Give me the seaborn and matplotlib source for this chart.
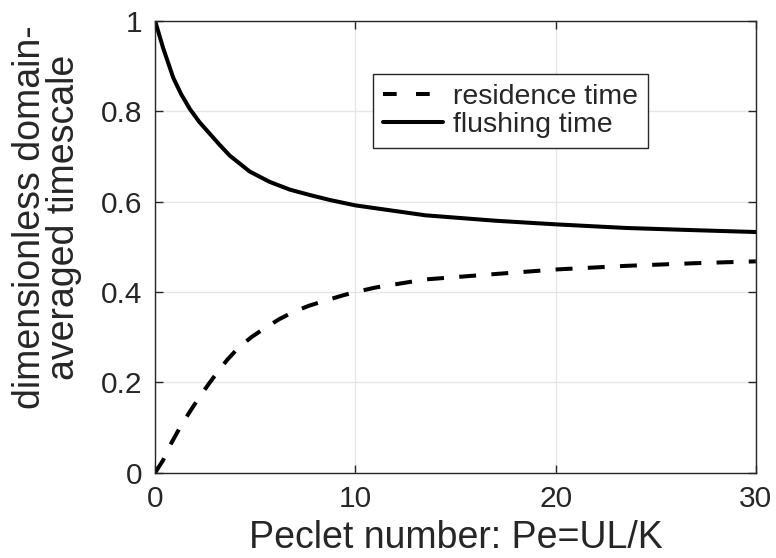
import numpy as np
import pandas as pd
import matplotlib
matplotlib.use("Agg")
import matplotlib.pyplot as plt
import seaborn as sns

# Data
flush_pe = [0, 0.4, 0.9, 1.3, 1.74, 2.2, 2.74, 3.2, 3.73, 4.72, 5.72, 6.72, 7.72, 8.72,
            10, 13.5, 17, 20, 23.5, 27, 30]
flush_t = [1.0, 0.94, 0.875, 0.838, 0.805, 0.777, 0.750, 0.727, 0.702, 0.667, 0.644,
           0.627, 0.615, 0.604, 0.592, 0.570, 0.558, 0.550, 0.542, 0.537, 0.533]

res_pe = [0, 0.4, 0.8, 1.2, 1.7, 2.1, 2.65, 3.1, 3.6, 4.1, 4.8, 5.5, 6.2, 6.9, 7.7, 8.5,
          9.4, 10, 11, 13.5, 17, 20, 23.5, 27, 30]
res_t = [0, 0.028, 0.065, 0.097, 0.133, 0.160, 0.195, 0.222, 0.250, 0.274, 0.300, 0.321,
         0.340, 0.356, 0.370, 0.381, 0.393, 0.400, 0.410, 0.428, 0.440, 0.450, 0.458, 0.464, 0.468]

x_ticks = [0, 10, 20, 30]
y_ticks = [0, 0.2, 0.4, 0.6, 0.8, 1.0]
series_labels = ["residence time", "flushing time"]

sns.set_style("whitegrid")
plt.rcParams['font.family'] = ['Liberation Sans', 'DejaVu Sans']

fig = plt.figure(figsize=(7.76, 5.58), dpi=100)
ax = fig.add_axes([0.2, 0.153, 0.774, 0.809])

df_res = pd.DataFrame({"Pe": res_pe, "t": res_t})
df_fl = pd.DataFrame({"Pe": flush_pe, "t": flush_t})

LW = 2.9
sns.lineplot(data=df_res, x="Pe", y="t", ax=ax, color="black", lw=LW,
             label=series_labels[0], sort=False)
ax.lines[-1].set_dashes((4.2, 3.8))
sns.lineplot(data=df_fl, x="Pe", y="t", ax=ax, color="black", lw=LW,
             label=series_labels[1], sort=False)

ax.set_xlim(0, 30)
ax.set_ylim(0, 1)
ax.set_xticks(x_ticks)
ax.set_yticks(y_ticks)
ax.set_xticklabels([f"{v:g}" for v in x_ticks])
ax.set_yticklabels([f"{v:g}" for v in y_ticks])

ax.grid(True, color="#e6e6e6", lw=1.0)
for s in ax.spines.values():
    s.set_visible(True)
    s.set_color("#262626")
    s.set_linewidth(1.0)
ax.tick_params(direction="in", length=6, width=1, color="#262626",
               top=True, right=True, bottom=True, left=True,
               labelsize=21.5, labelcolor="#262626", pad=9)

ax.set_xlabel("Peclet number: Pe=UL/K", fontsize=27, color="#262626", labelpad=5)
ax.set_ylabel("dimensionless domain-\naveraged timescale", fontsize=27,
              color="#262626", linespacing=0.92)
ax.yaxis.set_label_coords(-0.122, 0.566)

leg = ax.legend(loc="upper right", bbox_to_anchor=(0.82, 0.884), fontsize=20.5,
                frameon=True, fancybox=False, framealpha=1, edgecolor="#262626",
                handlelength=2.1, handletextpad=0.35, borderpad=0.35,
                labelspacing=0.08, borderaxespad=0)
leg.get_frame().set_linewidth(1.0)
for h in leg.get_lines():
    h.set_linewidth(LW)
leg.get_lines()[0].set_dashes((3.4, 4.8))

fig.savefig("out.png", dpi=100)
